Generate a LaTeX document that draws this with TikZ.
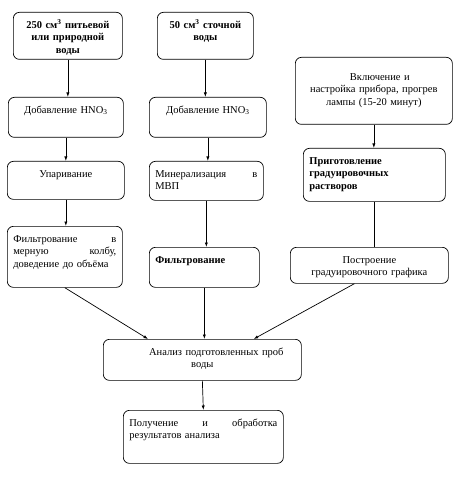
\documentclass[tikz,border=0pt]{standalone}
\usepackage{fontspec}
\setmainfont{Liberation Serif}
\usetikzlibrary{arrows.meta}

\tikzset{
  blk/.style={draw, rounded corners=6pt, anchor=north west, inner xsep=6pt,
    inner ysep=5pt, text height=11pt, line width=0.7pt,
    font=\fontsize{10.5}{12.5}\selectfont},
  bfblk/.style={blk, font=\fontsize{10.5}{12.5}\selectfont\bfseries},
  arr/.style={-{Latex[length=4.5pt,width=3.2pt]}, line width=0.7pt},
}

\begin{document}
\begin{tikzpicture}[x=1pt,y=-1pt]
    \useasboundingbox (0,0) rectangle (454,494);
    % Левая ветвь: питьевая вода
    \node[bfblk, text width=97pt, text depth=26pt, align=center] (src1) at (13,12)
        {250 см\textsuperscript{3} питьевой\\или природной\\воды};
    \node[blk, text width=103pt, text depth=19pt, align=center] (hno1) at (8,97)
        {Добавление HNO\textsubscript{3}};
    \node[blk, text width=105pt, text depth=17pt, align=center] (evap) at (7,161)
        {Упаривание};
    \node[blk, text width=103pt, text depth=40pt, align=left] (filt1) at (7,226)
        {Фильтрование\hfill в\\мерную\hfill колбу,\\доведение до объёма};
    % Средняя ветвь: сточная вода
    \node[bfblk, text width=84pt, text depth=26pt, align=center] (src2) at (157,12)
        {50 см\textsuperscript{3} сточной\\воды};
    \node[blk, text width=105pt, text depth=19pt, align=center] (hno2) at (149,97)
        {Добавление HNO\textsubscript{3}};
    \node[blk, text width=102pt, text depth=18pt, align=left] (mineral) at (149,161)
        {Минерализация\hfill в\\МВП};
    \node[bfblk, text width=98pt, text depth=19pt, align=left] (filt2) at (149,247)
        {Фильтрование};
    % Правая ветвь: прибор и градуировка
    \node[blk, text width=145pt, text height=18pt, text depth=39pt, align=center] (lamp) at (295,57)
        {\hspace*{12pt}Включение и\\настройка прибора, прогрев\\лампы (15-20 минут)};
    \node[bfblk, text width=130pt, text depth=32pt, align=left] (calib) at (303,148)
        {Приготовление\\градуировочных\\растворов};
    \node[blk, text width=146pt, text depth=15pt, align=center] (graph) at (290,247)
        {Построение\\градуировочного графика};
    % Общая часть
    \node[blk, text width=186pt, text depth=20pt, align=center] (anal) at (103,339)
        {\hspace*{28pt}Анализ подготовленных проб\\воды};
    \node[blk, text width=148pt, text depth=32pt, align=left] (res) at (123,410)
        {Получение\hfill и\hfill обработка\\результатов анализа};

    \draw[arr] (src1.south) -- (src1.south |- hno1.north);
    \draw[arr] (hno1.south) -- (hno1.south |- evap.north);
    \draw[arr] (evap.south) -- (evap.south |- filt1.north);
    \draw[arr] (src2.south) -- (src2.south |- hno2.north);
    \draw[arr] (hno2.south) -- (hno2.south |- mineral.north);
    \draw[arr] (mineral.south) -- (mineral.south |- filt2.north);
    \draw[arr] (lamp.south) -- (lamp.south |- calib.north);
    \draw[line width=0.7pt] (calib.south) -- (calib.south |- graph.north);
    \draw[arr] (filt1.south) -- ([xshift=45pt]anal.north west);
    \draw[arr] (filt2.south) -- (filt2.south |- anal.north);
    \draw[arr] ([xshift=-15pt]graph.south) -- ([xshift=-48pt]anal.north east);
    \draw[arr] (anal.south) -- (res.north);
\end{tikzpicture}
\end{document}
